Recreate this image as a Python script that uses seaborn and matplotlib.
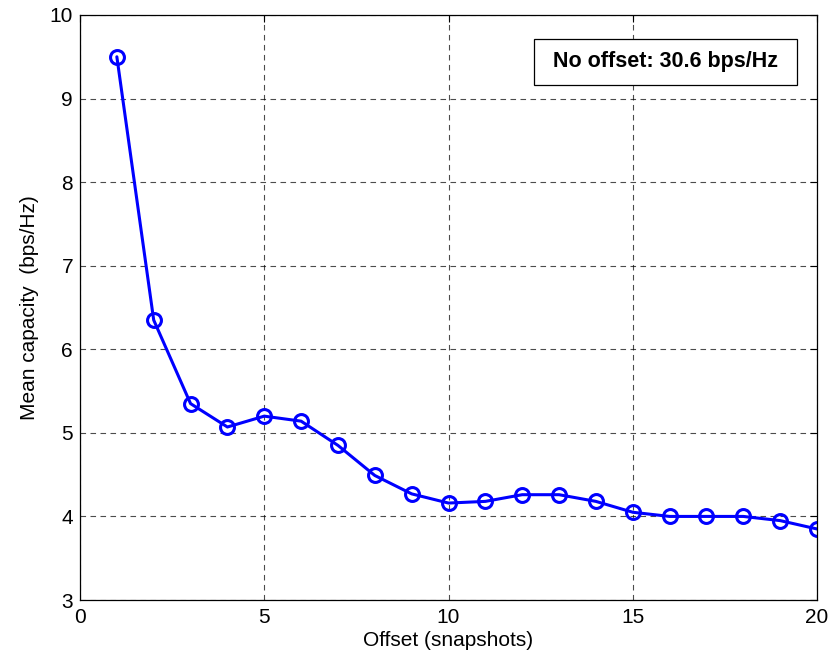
import numpy as np
import pandas as pd
import matplotlib
matplotlib.use("Agg")
import matplotlib.pyplot as plt
from matplotlib.patches import Rectangle
import seaborn as sns

# Data.
offset = list(range(1, 21))
capacity = [9.50, 6.35, 5.35, 5.07, 5.20, 5.14, 4.85, 4.49, 4.27, 4.16,
            4.18, 4.26, 4.26, 4.18, 4.05, 4.00, 4.00, 4.00, 3.95, 3.85]
note = "No offset: 30.6 bps/Hz"

df = pd.DataFrame({"Offset": offset, "Capacity": capacity})

# MATLAB-like white style.
sns.set_style("white")
plt.rcParams["font.family"] = ["Liberation Sans", "DejaVu Sans"]
plt.rcParams["text.color"] = "black"
plt.rcParams["axes.labelcolor"] = "black"

f = plt.figure(figsize=(8.3, 6.58), dpi=100)
ax = f.add_axes([80 / 830, 1 - 600 / 658, 737 / 830, 585 / 658])

sns.lineplot(data=df, x="Offset", y="Capacity", ax=ax, color="#0000ff",
             linewidth=2.2, marker="o", markersize=10, markerfacecolor="none",
             markeredgecolor="#0000ff", markeredgewidth=2.2)

# Axis limits and ticks.
ax.set_xlim(0, 20)
ax.set_ylim(3, 10)
ax.set_xticks(np.arange(0, 21, 5))
ax.set_yticks(np.arange(3, 11, 1))

# Dashed grid.
ax.grid(True, color="black", linestyle=(0, (5, 4)), linewidth=0.8, alpha=0.7)
ax.set_axisbelow(True)

for s in ax.spines.values():
    s.set_color("black")
    s.set_linewidth(0.9)
    s.set_visible(True)

ax.tick_params(axis="both", which="both", direction="in", top=True,
               right=True, length=5, labelsize=15, colors="black")
ax.tick_params(axis="x", pad=6)
ax.tick_params(axis="y", pad=5)

# Labels.
ax.set_xlabel("Offset (snapshots)", fontsize=15, labelpad=3)
ax.set_ylabel("Mean capacity  (bps/Hz)", fontsize=15, labelpad=8)

# Annotation box.
x0 = (534 - 80) / 737
x1 = (797 - 80) / 737
y0 = (600 - 85) / 585
y1 = (600 - 39) / 585
ax.add_patch(Rectangle((x0, y0), x1 - x0, y1 - y0, transform=ax.transAxes,
                       facecolor="white", edgecolor="black", linewidth=0.9,
                       zorder=5))
ax.text((x0 + x1) / 2, (y0 + y1) / 2, note, transform=ax.transAxes,
        ha="center", va="center", fontsize=15.5, fontweight="bold", zorder=6)

plt.savefig("out.png", dpi=100)
